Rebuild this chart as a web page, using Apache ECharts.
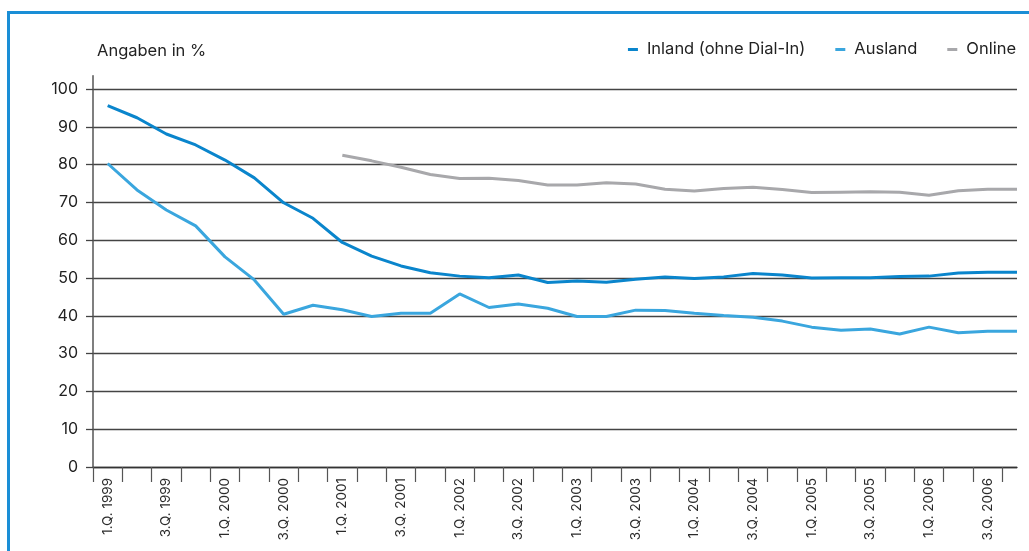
<!DOCTYPE html>
<html>
<head>
<meta charset="utf-8">
<script src="https://cdn.jsdelivr.net/npm/echarts@6/dist/echarts.min.js"></script>
<style>
html,body{margin:0;padding:0;background:#fff;overflow:hidden;}
#frame{position:absolute;left:7px;top:11px;width:1100px;height:600px;border-left:3px solid #1a8ed6;border-top:3px solid #1a8ed6;}
#chart{position:absolute;left:0;top:0;width:1029px;height:551px;}
</style>
</head>
<body>
<div id="frame"></div>
<div id="chart"></div>
<script>
const categories = ['1.Q. 1999','2.Q. 1999','3.Q. 1999','4.Q. 1999','1.Q. 2000','2.Q. 2000','3.Q. 2000','4.Q. 2000',
  '1.Q. 2001','2.Q. 2001','3.Q. 2001','4.Q. 2001','1.Q. 2002','2.Q. 2002','3.Q. 2002','4.Q. 2002',
  '1.Q. 2003','2.Q. 2003','3.Q. 2003','4.Q. 2003','1.Q. 2004','2.Q. 2004','3.Q. 2004','4.Q. 2004',
  '1.Q. 2005','2.Q. 2005','3.Q. 2005','4.Q. 2005','1.Q. 2006','2.Q. 2006','3.Q. 2006','4.Q. 2006'];
const inland = [95.6,92.4,88.1,85.2,81.2,76.5,69.9,65.8,59.4,55.8,53.2,51.4,50.5,50.1,50.8,48.8,
  49.2,48.9,49.7,50.3,49.9,50.3,51.2,50.8,50.0,50.1,50.1,50.4,50.5,51.3,51.5,51.5];
const ausland = [80.3,73.3,68.0,63.8,55.6,49.5,40.4,42.8,41.6,39.8,40.7,40.7,45.8,42.2,43.1,42.0,
  39.8,39.8,41.5,41.4,40.7,40.1,39.6,38.6,37.0,36.2,36.5,35.2,37.0,35.5,35.9,35.9];
const online = [null,null,null,null,null,null,null,null,82.5,81.0,79.3,77.4,76.3,76.4,75.8,74.6,
  74.6,75.2,74.9,73.5,73.0,73.7,74.0,73.4,72.6,72.7,72.8,72.7,71.9,73.1,73.5,73.5];
const yTicks = [0,10,20,30,40,50,60,70,80,90,100];
const seriesNames = ['Inland (ohne Dial-In)','Ausland','Online'];
const colors = ['#0a85cc','#3aa6de','#a8a8ab'];

const toPairs = arr => arr.map((v,i)=> [i, v]);
const xTickVals = categories.map((c,i)=> i-0.5);
const xLabelVals = categories.map((c,i)=> i).filter(i => i%2===0);

const chart = echarts.init(document.getElementById('chart'), null, {renderer:'canvas'});
const font = 'Inter, Liberation Sans, Arial, sans-serif';
chart.setOption({
  animation:false,
  textStyle:{fontFamily:font},
  title:{text:'Angaben in %', left:92, top:38, textStyle:{fontSize:16.5, fontWeight:'normal', color:'#222', fontFamily:font}},
  legend:{
    right:8, top:36, icon:'rect', itemWidth:10, itemHeight:3, itemGap:30,
    textStyle:{fontSize:16.5, color:'#222', fontFamily:font, padding:[0,0,0,4]},
    data:seriesNames
  },
  grid:{left:93, right:12, top:75.8, bottom:84, containLabel:false},
  xAxis:{
    type:'value', min:-0.5, max:categories.length-1,
    axisLine:{show:true, onZero:true, lineStyle:{color:'#333', width:1.3}},
    axisTick:{show:true, length:15, customValues:xTickVals, lineStyle:{color:'#555', width:1.2}},
    axisLabel:{customValues:xLabelVals, rotate:90, margin:11, fontSize:13.5, color:'#2a2a2a', fontFamily:font,
      formatter: v => categories[Math.round(v)] || ''},
    splitLine:{show:false}
  },
  yAxis:{
    type:'value', min:0, max:103.5,
    axisLine:{show:true, onZero:false, lineStyle:{color:'#555', width:1.5}},
    axisTick:{show:true, length:7, customValues:yTicks, lineStyle:{color:'#444', width:1.3}},
    axisLabel:{customValues:yTicks, margin:15, fontSize:16, color:'#222', fontFamily:font},
    splitLine:{show:true, lineStyle:{color:'#444', width:1.3}}
  },
  series:[
    {name:seriesNames[0], type:'line', data:toPairs(inland), symbol:'none', lineStyle:{width:3, color:colors[0]}, itemStyle:{color:colors[0]}, z:3},
    {name:seriesNames[1], type:'line', data:toPairs(ausland), symbol:'none', lineStyle:{width:3, color:colors[1]}, itemStyle:{color:colors[1]}, z:2},
    {name:seriesNames[2], type:'line', data:toPairs(online), symbol:'none', connectNulls:false, lineStyle:{width:3, color:colors[2]}, itemStyle:{color:colors[2]}, z:1}
  ]
});
</script>
</body>
</html>
